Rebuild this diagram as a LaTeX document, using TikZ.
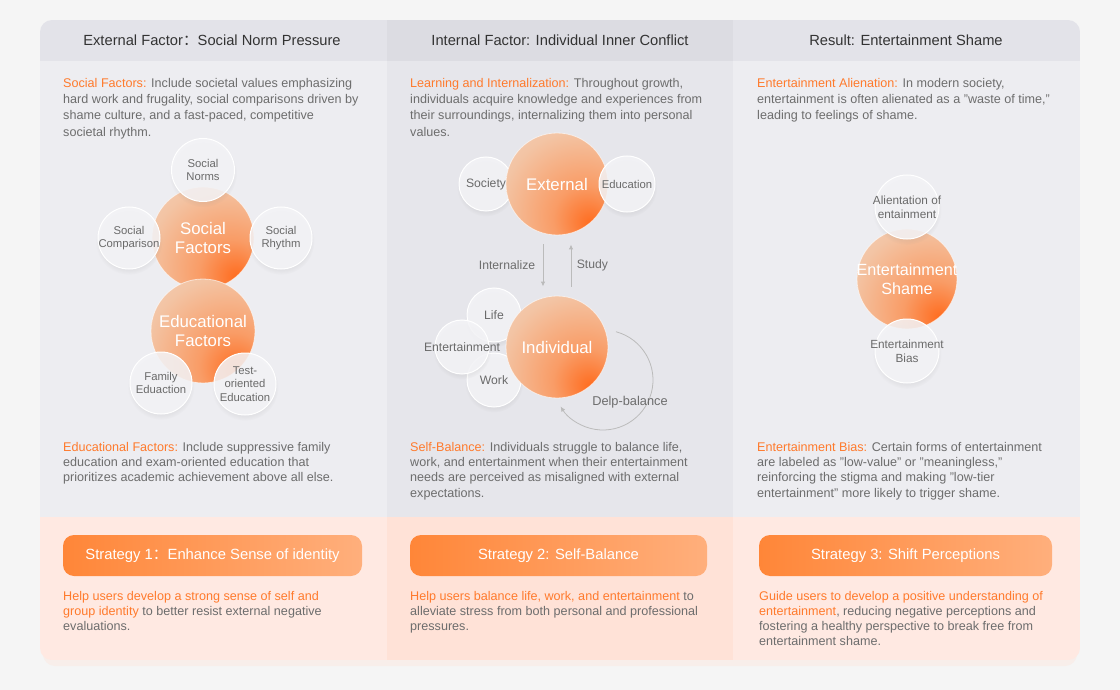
\documentclass[tikz,border=0pt]{standalone}
\usepackage{fontspec}
\setmainfont{Liberation Sans}
\newfontfamily\cjk{Noto Sans CJK SC}
\usetikzlibrary{arrows.meta,calc,shadows,fadings}

\definecolor{pagebg}{HTML}{F5F5F5}
\definecolor{cardglow}{HTML}{F8EEEA}
\definecolor{headside}{HTML}{E3E3E9}
\definecolor{headmid}{HTML}{DCDCE2}
\definecolor{bodyside}{HTML}{EDEDF1}
\definecolor{bodymid}{HTML}{E6E6EB}
\definecolor{stratside}{HTML}{FFE9E2}
\definecolor{stratmid}{HTML}{FFE2D7}
\definecolor{headtext}{HTML}{333333}
\definecolor{bodytext}{HTML}{6D6D6D}
\definecolor{hl}{HTML}{FF7A2C}
\definecolor{orbdeep}{HTML}{FF6A1C}
\definecolor{orbmid}{HTML}{F99C66}
\definecolor{orbsoft}{HTML}{F3C4A4}
\definecolor{orbpale}{HTML}{EEDBCD}
\definecolor{glassfill}{HTML}{F4F4F7}
\definecolor{glasstext}{HTML}{6A6A6A}
\definecolor{arrowgray}{HTML}{BBBBBB}
\definecolor{btnleft}{HTML}{FF8638}
\definecolor{btnright}{HTML}{FFAF7C}

\pgfdeclareradialshading{orbshade}{\pgfpoint{17bp}{-20bp}}{%
  color(0bp)=(orbdeep); color(16bp)=(orbmid); color(38bp)=(orbsoft);
  color(66bp)=(orbpale); color(100bp)=(orbpale)}

\begin{document}
\begin{tikzpicture}[x=1pt, y=-1pt, >={Latex[length=5pt,width=4.5pt]},
  headline/.style={font=\fontsize{14.7}{17}\selectfont, text=headtext},
  para/.style={anchor=north west, inner sep=0pt, align=left, text=bodytext,
    font=\fontsize{12.6}{16.3}\selectfont},
  bigorb/.style={circle, minimum size=#1, inner sep=0pt, shading=orbshade,
    draw=white, draw opacity=0.6, line width=0.8pt},
  orbtxt/.style={text=white, align=center, font=\fontsize{16.8}{19}\selectfont},
  glass/.style={circle, minimum size=#1, inner sep=0pt, fill=glassfill,
    fill opacity=0.85, draw=white, line width=1pt,
    circular drop shadow={shadow xshift=0pt, shadow yshift=-3pt,
      shadow scale=1.08, opacity=0.10}},
  glasstxt/.style={text=glasstext, align=center, font=\fontsize{11.3}{13.3}\selectfont},
  flow/.style={draw=arrowgray, line width=1pt},
  flowtxt/.style={text=bodytext, font=\fontsize{12.2}{14}\selectfont},
  button/.style={rounded corners=11pt, left color=btnleft, right color=btnright,
    text=white, minimum height=41pt, font=\fontsize{14.8}{17}\selectfont},
]
  \useasboundingbox (0,0) rectangle (1120,690);
  \fill[pagebg] (0,0) rectangle (1120,690);
  \fill[cardglow, rounded corners=12pt] (43,26) rectangle (1077,666);

  % --- card with three columns ---
  \begin{scope}
    \clip[rounded corners=12pt] (40,20) rectangle (1080,660);
    \fill[headside] (40,20) rectangle (1080,61);
    \fill[headmid] (387,20) rectangle (733,61);
    \fill[bodyside] (40,61) rectangle (1080,517);
    \fill[bodymid] (387,61) rectangle (733,517);
    \fill[stratside] (40,517) rectangle (1080,660);
    \fill[stratmid] (387,517) rectangle (733,660);
  \end{scope}

  \node[headline] (headL) at (212,40) {External Factor{\cjk ：}Social Norm Pressure};
  \node[headline] (headM) at (560,40) {Internal Factor: Individual Inner Conflict};
  \node[headline] (headR) at (906,40) {Result: Entertainment Shame};

  % --- column texts ---
  \node[para] (socTxt) at (63,78) {\textcolor{hl}{Social Factors:} Include societal values emphasizing\\
    hard work and frugality, social comparisons driven by\\
    shame culture, and a fast-paced, competitive\\
    societal rhythm.};
  \node[para, font=\fontsize{12.6}{15.3}\selectfont] (eduTxt) at (63,442) {\textcolor{hl}{Educational Factors:} Include suppressive family\\
    education and exam-oriented education that\\
    prioritizes academic achievement above all else.};
  \node[para] (learnTxt) at (410,78) {\textcolor{hl}{Learning and Internalization:} Throughout growth,\\
    individuals acquire knowledge and experiences from\\
    their surroundings, internalizing them into personal\\
    values.};
  \node[para, font=\fontsize{12.6}{15.3}\selectfont] (balTxt) at (410,442) {\textcolor{hl}{Self-Balance:} Individuals struggle to balance life,\\
    work, and entertainment when their entertainment\\
    needs are perceived as misaligned with external\\
    expectations.};
  \node[para] (alienTxt) at (757,78) {\textcolor{hl}{Entertainment Alienation:} In modern society,\\
    entertainment is often alienated as a "waste of time,"\\
    leading to feelings of shame.};
  \node[para, font=\fontsize{12.6}{15.3}\selectfont] (biasTxt) at (757,442) {\textcolor{hl}{Entertainment Bias:} Certain forms of entertainment\\
    are labeled as "low-value" or "meaningless,"\\
    reinforcing the stigma and making "low-tier\\
    entertainment" more likely to trigger shame.};

  % --- left cluster ---
  \node[bigorb=102pt, label={[orbtxt]center:Social\\Factors}] (socF) at (203,238) {};
  \node[glass=63pt, label={[glasstxt]center:Social\\Norms}] (sNorm) at (203,170) {};
  \node[glass=62pt, label={[glasstxt]center:Social\\Comparison}] (sComp) at (129,238) {};
  \node[glass=62pt, label={[glasstxt]center:Social\\Rhythm}] (sRhy) at (281,238) {};
  \node[bigorb=104pt, label={[orbtxt]center:Educational\\Factors}] (eduF) at (203,331) {};
  \node[glass=62pt, label={[glasstxt]center:Family\\Eduaction}] (famEdu) at (161,383) {};
  \node[glass=62pt, label={[glasstxt]center:Test-\\oriented\\Education}] (testEdu) at (245,384) {};

  % --- middle cluster ---
  \node[glass=54pt, label={[glasstxt, font=\fontsize{12.2}{14}\selectfont]center:Society}] (soc) at (486,184) {};
  \node[bigorb=102pt, label={[orbtxt]center:External}] (ext) at (557,184) {};
  \node[glass=56pt, label={[glasstxt]center:Education}] (edu) at (627,184) {};

  \node[glass=54pt, label={[glasstxt, font=\fontsize{12.2}{14}\selectfont]center:Life}] (life) at (494,315) {};
  \node[glass=54pt, label={[glasstxt, font=\fontsize{12.2}{14}\selectfont]center:Work}] (work) at (494,380) {};
  \node[glass=54pt, label={[glasstxt, font=\fontsize{12.2}{14}\selectfont]center:Entertainment}] (ent) at (462,347) {};
  \node[bigorb=102pt, label={[orbtxt]center:Individual}] (ind) at (557,347) {};

  \draw[flow, ->, shorten <=9pt, shorten >=9pt] ([xshift=-14pt]ext.south) -- ([xshift=-14pt]ind.north)
    node[flowtxt, midway, left=4pt] (intTxt) {Internalize};
  \draw[flow, ->, shorten <=9pt, shorten >=9pt] ([xshift=14pt]ind.north) -- ([xshift=14pt]ext.south)
    node[flowtxt, midway, right=2pt] (studyTxt) {Study};

  \coordinate (loopC) at (603,380);
  \draw[flow, line width=0.8pt, ->] ($(loopC)+(-75:50)$) arc[start angle=-75, end angle=148, radius=50];
  \node[flowtxt, font=\fontsize{12.8}{14}\selectfont] (loopTxt) at (630,402) {Delp-balance};

  % --- right cluster ---
  \node[bigorb=100pt, label={[orbtxt, font=\fontsize{16.2}{18.5}\selectfont]center:Entertainment\\Shame}] (shame) at (907,279) {};
  \node[glass=64pt, label={[glasstxt, font=\fontsize{11.8}{13.8}\selectfont]center:Alientation of\\entainment}] (alien) at (907,207) {};
  \node[glass=64pt, label={[glasstxt, font=\fontsize{11.8}{13.8}\selectfont]center:Entertainment\\Bias}] (bias) at (907,351) {};

  % --- strategies ---
  \node[button, minimum width=299pt] (strat1) at (212.5,555.5) {Strategy 1{\cjk ：}Enhance Sense of identity};
  \node[button, minimum width=297pt] (strat2) at (558.5,555.5) {Strategy 2: Self-Balance};
  \node[button, minimum width=293pt] (strat3) at (905.5,555.5) {Strategy 3: Shift Perceptions};

  \node[para, font=\fontsize{12.6}{15.2}\selectfont] (s1Txt) at (63,591) {\textcolor{hl}{Help users develop a strong sense of self and}\\
    \textcolor{hl}{group identity} to better resist external negative\\
    evaluations.};
  \node[para, font=\fontsize{12.6}{15.2}\selectfont] (s2Txt) at (410,591) {\textcolor{hl}{Help users balance life, work, and entertainment} to\\
    alleviate stress from both personal and professional\\
    pressures.};
  \node[para, font=\fontsize{12.6}{15.2}\selectfont] (s3Txt) at (759,591) {\textcolor{hl}{Guide users to develop a positive understanding of}\\
    \textcolor{hl}{entertainment}, reducing negative perceptions and\\
    fostering a healthy perspective to break free from\\
    entertainment shame.};
\end{tikzpicture}
\end{document}
